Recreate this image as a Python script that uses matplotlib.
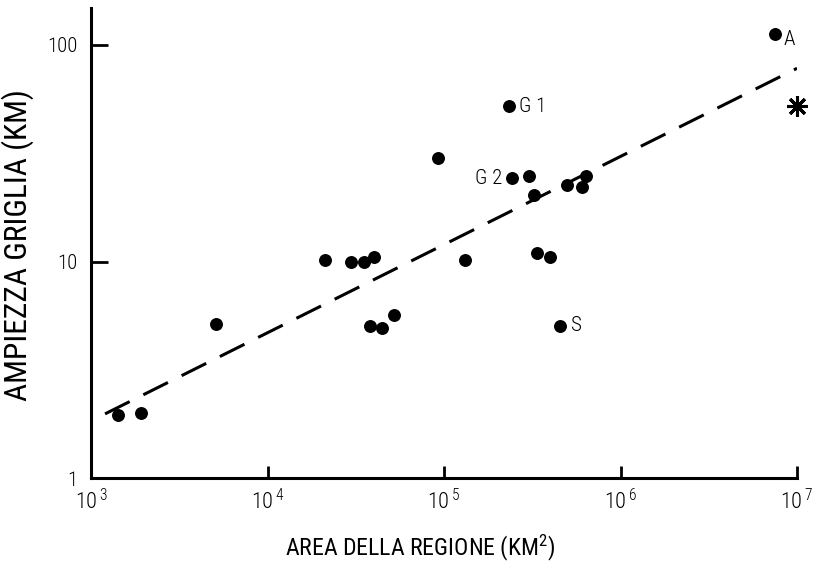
import matplotlib
matplotlib.use("Agg")
import matplotlib.pyplot as plt
from matplotlib import font_manager
import numpy as np

# ---- data ----
area = [1420, 1920, 5100, 21200, 29700, 35200, 40100, 38100, 44500, 52100,
        92500, 131600, 233500, 242700, 303000, 324000, 336000, 399000,
        454000, 497000, 605000, 638000, 7.5e6]
grid = [1.96, 2.0, 5.16, 10.2, 10.0, 10.0, 10.5, 5.05, 4.95, 5.68,
        30.0, 10.2, 52.2, 24.2, 24.8, 20.2, 11.0, 10.5,
        5.05, 22.5, 22.2, 24.8, 112]
star_area = [1.0e7]
star_grid = [52]
fit_area = [1.2e3, 1.0e7]
fit_grid = [1.98, 78]
labels = {"G 1": (233500, 52.2), "G2": (242700, 24.2), "S": (454000, 5.05), "A": (7.5e6, 112)}
xticks = [1e3, 1e4, 1e5, 1e6, 1e7]
xticklabels = [r"10$^{\,3}$", r"10$^{\,4}$", r"10$^{\,5}$", r"10$^{\,6}$", r"10$^{\,7}$"]
yticks = [1, 10, 100]
yticklabels = ["1", "10", "100"]

names = {f.name for f in font_manager.fontManager.ttflist}
fam = "DejaVu Sans"
for cand in ["Liberation Sans Narrow", "DejaVu Sans Condensed", "Roboto Condensed",
             "Open Sans Condensed", "Noto Sans Condensed", "Liberation Sans"]:
    if cand in names:
        fam = cand
        break
plt.rcParams["font.family"] = [fam, "DejaVu Sans"]
plt.rcParams["font.weight"] = "light"
plt.rcParams["mathtext.default"] = "regular"

fig = plt.figure(figsize=(8.28, 5.74), dpi=100)
ax = fig.add_axes([0.110, 0.167, 0.8526, 0.819])
ax.set_xscale("log")
ax.set_yscale("log")
ax.set_xlim(1e3, 1e7)
ax.set_ylim(1, 148)

ax.plot(fit_area, fit_grid, color="black", lw=2.2, dashes=(9, 5), zorder=2)
ax.plot(area, grid, "o", color="black", ms=8.3, zorder=3, clip_on=False)
ax.plot(star_area, star_grid, marker=(8, 2, 0), color="black", ms=15, mew=2.2,
        ls="none", clip_on=False, zorder=3)

lab_kw = dict(fontsize=15, va="center")
ax.text(labels["G 1"][0] * 1.14, labels["G 1"][1], "G 1", ha="left", **lab_kw)
ax.text(labels["G2"][0] * 0.88, labels["G2"][1], "G 2", ha="right", **lab_kw)
ax.text(labels["S"][0] * 1.16, labels["S"][1], "S", ha="left", **lab_kw)
ax.text(labels["A"][0] * 1.12, labels["A"][1] * 0.95, "A", ha="left", **lab_kw)

for s in ["top", "right"]:
    ax.spines[s].set_visible(False)
for s in ["left", "bottom"]:
    ax.spines[s].set_linewidth(2.2)

ax.set_xticks(xticks)
ax.set_xticklabels(xticklabels, fontsize=16)
ax.set_yticks(yticks)
ax.set_yticklabels(yticklabels, fontsize=15)
ax.minorticks_off()
ax.tick_params(axis="x", direction="in", length=9, width=2, pad=8)
ax.tick_params(axis="y", direction="in", length=12, width=2, pad=10)

xl = ax.set_xlabel(r"AREA DELLA REGIONE (KM$^2$)", fontsize=18)
yl = ax.set_ylabel("AMPIEZZA GRIGLIA (KM)", fontsize=18)

# fit label sizes to the reference text lengths (in pixels)
r = fig.canvas.get_renderer()
for t, target, horiz in [(xl, 270, True), (yl, 312, False)]:
    bb = t.get_window_extent(renderer=r)
    length = bb.width if horiz else bb.height
    t.set_fontsize(18 * target / length)
fig.canvas.draw()

ax.xaxis.set_label_coords((420 - 91) / 706, -(548 - 478) / 470)
ax.yaxis.set_label_coords(-(91 - 18) / 706, (478 - 245) / 470)
xl.set_va("center")
yl.set_va("center")

fig.savefig("out.png", dpi=100)
